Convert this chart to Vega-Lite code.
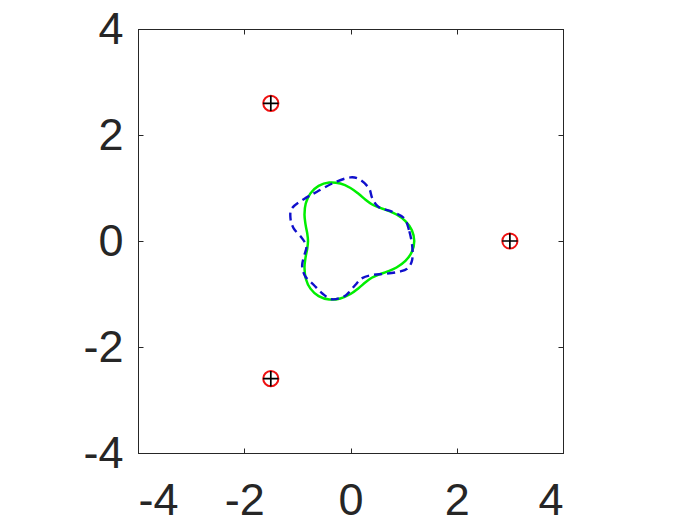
{
  "$schema": "https://vega.github.io/schema/vega-lite/v6.json",
  "width": 425,
  "height": 424,
  "autosize": {"type": "none"},
  "padding": {"left": 138, "top": 29, "right": 137, "bottom": 72},
  "background": "white",
  "config": {
    "view": {"stroke": "#262626", "strokeWidth": 1},
    "axis": {
      "grid": false,
      "domainColor": "#262626",
      "tickColor": "#262626",
      "labelColor": "#262626",
      "labelFont": "Liberation Sans",
      "labelFontSize": 45,
      "tickSize": -5,
      "labelExpr": "'' + datum.value"
    }
  },
  "datasets": {
    "green": [
      {"i": 0, "x": 1.2, "y": 0},
      {"i": 1, "x": 1.1554, "y": 0.2037},
      {"i": 2, "x": 1.0337, "y": 0.3762},
      {"i": 3, "x": 0.866, "y": 0.5},
      {"i": 4, "x": 0.6894, "y": 0.5785},
      {"i": 5, "x": 0.5315, "y": 0.6333},
      {"i": 6, "x": 0.4, "y": 0.6928},
      {"i": 7, "x": 0.2828, "y": 0.7769},
      {"i": 8, "x": 0.1562, "y": 0.8863},
      {"i": 9, "x": 0, "y": 1.0},
      {"i": 10, "x": -0.191, "y": 1.0833},
      {"i": 11, "x": -0.4012, "y": 1.1025},
      {"i": 12, "x": -0.6, "y": 1.0392},
      {"i": 13, "x": -0.7541, "y": 0.8987},
      {"i": 14, "x": -0.8426, "y": 0.7071},
      {"i": 15, "x": -0.866, "y": 0.5},
      {"i": 16, "x": -0.8457, "y": 0.3078},
      {"i": 17, "x": -0.8142, "y": 0.1435},
      {"i": 18, "x": -0.8, "y": 0},
      {"i": 19, "x": -0.8142, "y": -0.1435},
      {"i": 20, "x": -0.8457, "y": -0.3078},
      {"i": 21, "x": -0.866, "y": -0.5},
      {"i": 22, "x": -0.8426, "y": -0.7071},
      {"i": 23, "x": -0.7541, "y": -0.8987},
      {"i": 24, "x": -0.6, "y": -1.0392},
      {"i": 25, "x": -0.4012, "y": -1.1025},
      {"i": 26, "x": -0.191, "y": -1.0833},
      {"i": 27, "x": 0, "y": -1.0},
      {"i": 28, "x": 0.1562, "y": -0.8863},
      {"i": 29, "x": 0.2828, "y": -0.7769},
      {"i": 30, "x": 0.4, "y": -0.6928},
      {"i": 31, "x": 0.5315, "y": -0.6333},
      {"i": 32, "x": 0.6894, "y": -0.5785},
      {"i": 33, "x": 0.866, "y": -0.5},
      {"i": 34, "x": 1.0337, "y": -0.3762},
      {"i": 35, "x": 1.1554, "y": -0.2037}
    ],
    "blue": [
      {"i": 0, "x": 1.16, "y": -0.08},
      {"i": 1, "x": 1.10, "y": 0.21},
      {"i": 2, "x": 1.01, "y": 0.43},
      {"i": 3, "x": 0.79, "y": 0.55},
      {"i": 4, "x": 0.53, "y": 0.64},
      {"i": 5, "x": 0.41, "y": 0.81},
      {"i": 6, "x": 0.35, "y": 0.99},
      {"i": 7, "x": 0.19, "y": 1.15},
      {"i": 8, "x": 0.0, "y": 1.20},
      {"i": 9, "x": -0.31, "y": 1.10},
      {"i": 10, "x": -0.63, "y": 0.93},
      {"i": 11, "x": -0.88, "y": 0.79},
      {"i": 12, "x": -1.10, "y": 0.62},
      {"i": 13, "x": -1.13, "y": 0.43},
      {"i": 14, "x": -1.07, "y": 0.24},
      {"i": 15, "x": -0.91, "y": 0.05},
      {"i": 16, "x": -0.83, "y": -0.11},
      {"i": 17, "x": -0.88, "y": -0.30},
      {"i": 18, "x": -0.91, "y": -0.48},
      {"i": 19, "x": -0.85, "y": -0.67},
      {"i": 20, "x": -0.69, "y": -0.83},
      {"i": 21, "x": -0.53, "y": -0.99},
      {"i": 22, "x": -0.35, "y": -1.10},
      {"i": 23, "x": -0.13, "y": -1.05},
      {"i": 24, "x": -0.03, "y": -0.97},
      {"i": 25, "x": 0.09, "y": -0.83},
      {"i": 26, "x": 0.22, "y": -0.70},
      {"i": 27, "x": 0.41, "y": -0.64},
      {"i": 28, "x": 0.66, "y": -0.62},
      {"i": 29, "x": 0.91, "y": -0.58},
      {"i": 30, "x": 1.07, "y": -0.52},
      {"i": 31, "x": 1.16, "y": -0.36}
    ],
    "pts": [
      {"x": 3, "y": 0},
      {"x": -1.5, "y": 2.598},
      {"x": -1.5, "y": -2.598}
    ]
  },
  "layer": [
    {
      "data": {"name": "green"},
      "mark": {"type": "line", "interpolate": "cardinal-closed", "color": "#00ee00", "strokeWidth": 2.5},
      "encoding": {
        "x": {"field": "x", "type": "quantitative", "scale": {"domain": [-4, 4], "nice": false, "zero": false}, "axis": {"orient": "bottom", "values": [-4, -2, 0, 2, 4], "title": null, "labelPadding": 30}},
        "y": {"field": "y", "type": "quantitative", "scale": {"domain": [-4, 4], "nice": false, "zero": false}, "axis": {"orient": "left", "values": [-4, -2, 0, 2, 4], "title": null, "labelPadding": 20}},
        "order": {"field": "i", "type": "quantitative"}
      }
    },
    {
      "data": {"name": "blue"},
      "mark": {"type": "line", "interpolate": "cardinal-closed", "color": "#1010cc", "strokeWidth": 2.4, "strokeDash": [8, 5]},
      "encoding": {
        "x": {"field": "x", "type": "quantitative", "axis": null},
        "y": {"field": "y", "type": "quantitative", "axis": null},
        "order": {"field": "i", "type": "quantitative"}
      }
    },
    {
      "data": {"name": "pts"},
      "mark": {"type": "point", "shape": "circle", "size": 230, "color": "#ee1111", "strokeWidth": 2, "filled": false, "opacity": 1},
      "encoding": {
        "x": {"field": "x", "type": "quantitative", "axis": null},
        "y": {"field": "y", "type": "quantitative", "axis": null}
      }
    },
    {
      "data": {"name": "pts"},
      "mark": {"type": "point", "shape": "M-1,0L1,0M0,-1L0,1", "size": 240, "color": "#000000", "strokeWidth": 1.7, "filled": false, "opacity": 1},
      "encoding": {
        "x": {"field": "x", "type": "quantitative", "axis": {"orient": "top", "values": [-4, -2, 0, 2, 4], "labels": false, "title": null}},
        "y": {"field": "y", "type": "quantitative", "axis": {"orient": "right", "values": [-4, -2, 0, 2, 4], "labels": false, "title": null}}
      }
    }
  ],
  "resolve": {"axis": {"x": "independent", "y": "independent"}}
}
